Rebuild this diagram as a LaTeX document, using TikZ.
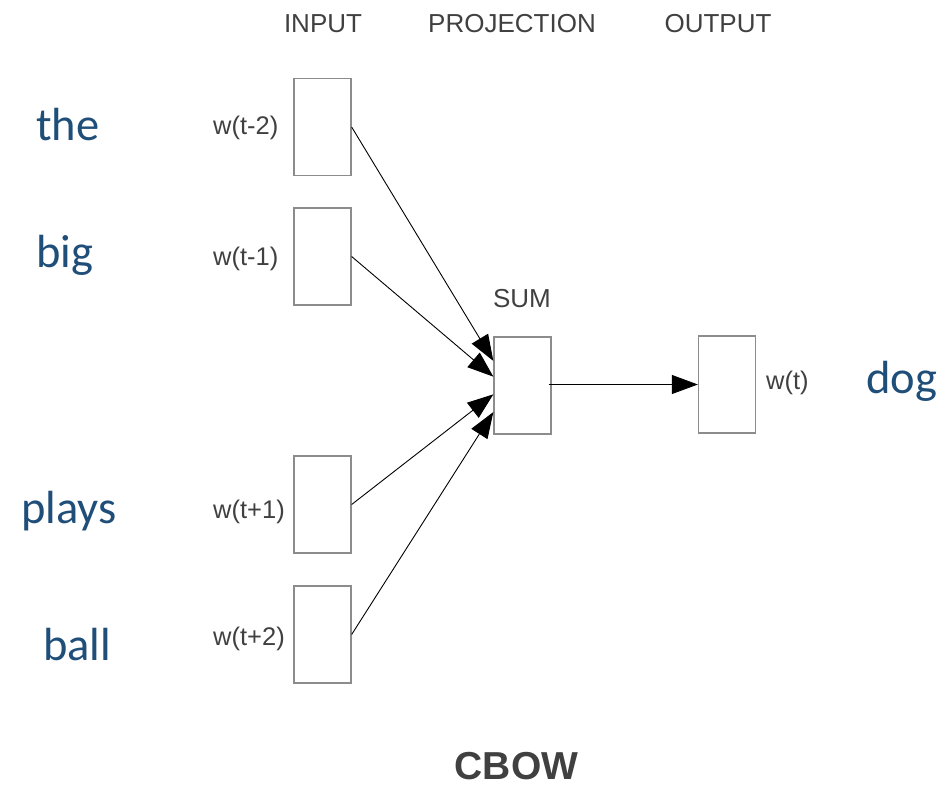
\documentclass[tikz,border=0pt]{standalone}
\usepackage{fontspec}
\setmainfont{Liberation Sans}
\newfontfamily\wordfont{Carlito}
\usetikzlibrary{arrows.meta,calc}
\definecolor{wordblue}{HTML}{1F4E79}
\definecolor{labelgray}{HTML}{404040}
\definecolor{boxgray}{HTML}{8C8C8C}
\begin{document}
\begin{tikzpicture}[x=1pt,y=-1pt,
  unit/.style={draw=boxgray,line width=1.3pt,fill=white,minimum width=57pt,minimum height=97pt,inner sep=0pt},
  vlabel/.style={text=labelgray,font=\fontsize{25.5}{25.5}\selectfont,inner sep=0pt},
  head/.style={text=labelgray,font=\fontsize{26}{26}\selectfont,inner sep=0pt,anchor=base},
  word/.style={text=wordblue,font=\wordfont\fontsize{46.5}{46.5}\selectfont,inner sep=0pt,anchor=base west},
  link/.style={draw=black,line width=0.9pt,-{Triangle[length=26pt,width=19pt]}}]
\useasboundingbox (0,0) rectangle (946,788);

% column headings
\node[head] (hin)   at (323,32) {INPUT};
\node[head] (hproj) at (512,32) {PROJECTION};
\node[head] (hout)  at (718,32) {OUTPUT};

% input units
\node[unit] (i1) at (322.5,127) {};
\node[unit] (i2) at (322.5,256.5) {};
\node[unit] (i3) at (322.5,504.5) {};
\node[unit] (i4) at (322.5,634.5) {};

% projection and output units
\node[unit] (sum) at (522.5,385.5) {};
\node[unit] (out) at (727,384.5) {};

% unit labels
\node[vlabel,anchor=west] (l1) at (213,128) {w(t-2)};
\node[vlabel,anchor=west] (l2) at (213,259) {w(t-1)};
\node[vlabel,anchor=west] (l3) at (213,512) {w(t+1)};
\node[vlabel,anchor=west] (l4) at (213,639) {w(t+2)};
\node[vlabel,anchor=west] (lo) at (766,383) {w(t)};
\node[head] (lsum) at (522,307) {SUM};

% context and target words
\node[word] (wthe)   at (36,140) {the};
\node[word] (wbig)   at (36,267) {big};
\node[word] (wplays) at (21,523) {plays};
\node[word] (wball)  at (43,660) {ball};
\node[word] (wdog)   at (866,393) {dog};

% connections into the sum
\draw[link] (i1.east) -- ($(sum.north west)!0.25!(sum.south west)$);
\draw[link] (i2.east) -- ($(sum.north west)!0.41!(sum.south west)$);
\draw[link] (i3.east) -- ($(sum.north west)!0.59!(sum.south west)$);
\draw[link] (i4.east) -- ($(sum.north west)!0.77!(sum.south west)$);
\draw[link] ([xshift=-3pt]sum.east |- out.west) -- (out.west);

% title
\node[text=labelgray,font=\bfseries\fontsize{39}{39}\selectfont,inner sep=0pt,anchor=base] (title) at (516.5,779) {CBOW};
\end{tikzpicture}
\end{document}
